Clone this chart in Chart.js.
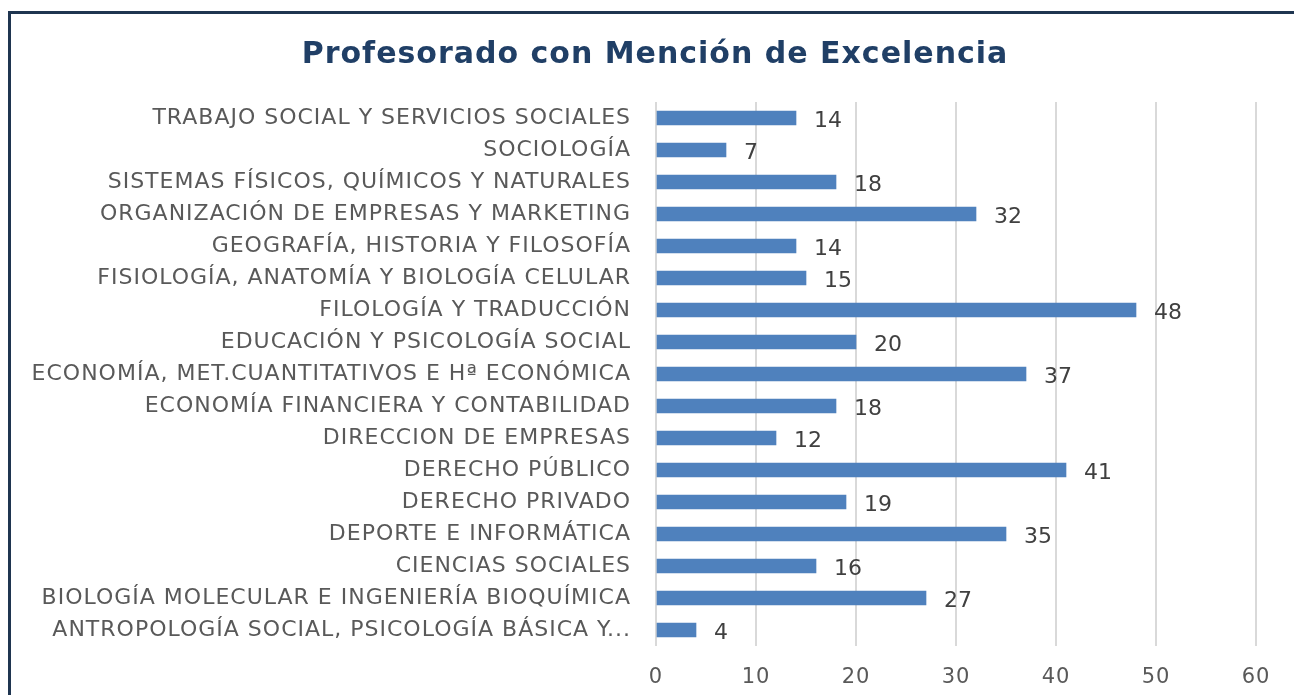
<!DOCTYPE html>
<html>
<head>
<meta charset="utf-8">
<script src="https://cdn.jsdelivr.net/npm/chart.js@4"></script>
<style>
  html, body { margin: 0; padding: 0; background: #fff; overflow: hidden; }
  #wrap { position: relative; width: 1294px; height: 695px; }
  #frame {
    position: absolute; left: 8px; top: 11px; width: 1400px; height: 800px;
    border-left: 3px solid #1f3550; border-top: 3px solid #1f3550;
    pointer-events: none;
  }
</style>
</head>
<body>
<div id="wrap">
  <canvas id="myChart" width="1294" height="695"></canvas>
  <div id="frame"></div>
</div>
<script>
// categorías (de arriba a abajo)
var areas = [
  "TRABAJO SOCIAL Y SERVICIOS SOCIALES",
  "SOCIOLOGÍA",
  "SISTEMAS FÍSICOS, QUÍMICOS Y NATURALES",
  "ORGANIZACIÓN DE EMPRESAS Y MARKETING",
  "GEOGRAFÍA, HISTORIA Y FILOSOFÍA",
  "FISIOLOGÍA, ANATOMÍA Y BIOLOGÍA CELULAR",
  "FILOLOGÍA Y TRADUCCIÓN",
  "EDUCACIÓN Y PSICOLOGÍA SOCIAL",
  "ECONOMÍA, MET.CUANTITATIVOS E Hª ECONÓMICA",
  "ECONOMÍA FINANCIERA Y CONTABILIDAD",
  "DIRECCION DE EMPRESAS",
  "DERECHO PÚBLICO",
  "DERECHO PRIVADO",
  "DEPORTE E INFORMÁTICA",
  "CIENCIAS SOCIALES",
  "BIOLOGÍA MOLECULAR E INGENIERÍA BIOQUÍMICA",
  "ANTROPOLOGÍA SOCIAL, PSICOLOGÍA BÁSICA Y..."
];
var profesores = [14, 7, 18, 32, 14, 15, 48, 20, 37, 18, 12, 41, 19, 35, 16, 27, 4];
var ejeX = [0, 10, 20, 30, 40, 50, 60];

// espaciado de letras (el original sale algo estirado)
var spacing = {
  id: "spacing",
  beforeDraw: function (chart) {
    chart.ctx.letterSpacing = "1px";
  }
};

// etiquetas de valor al final de cada barra
var valueLabels = {
  id: "valueLabels",
  afterDatasetsDraw: function (chart) {
    var ctx = chart.ctx;
    var meta = chart.getDatasetMeta(0);
    ctx.save();
    ctx.letterSpacing = "0px";
    ctx.font = "22px 'DejaVu Sans'";
    ctx.fillStyle = "#404040";
    ctx.textAlign = "left";
    ctx.textBaseline = "middle";
    meta.data.forEach(function (bar, i) {
      ctx.fillText(String(profesores[i]), bar.x + 18, bar.y + 3);
    });
    ctx.restore();
  }
};

var ctx = document.getElementById("myChart").getContext("2d");
var myChart = new Chart(ctx, {
  type: "bar",
  data: {
    labels: areas,
    datasets: [{
      data: profesores,
      backgroundColor: "#4f81bd",
      borderWidth: 0,
      barThickness: 14
    }]
  },
  plugins: [spacing, valueLabels],
  options: {
    indexAxis: "y",
    responsive: false,
    animation: false,
    layout: { padding: { left: 16, right: 0, top: 0, bottom: 0 } },
    plugins: {
      legend: { display: false },
      tooltip: { enabled: false },
      title: {
        display: true,
        text: "Profesorado con Mención de Excelencia",
        color: "#203f66",
        font: { family: "'DejaVu Sans'", size: 30, weight: "bold", lineHeight: 1.2 },
        padding: { top: 37, bottom: 29 }
      }
    },
    scales: {
      x: {
        min: 0,
        max: 60,
        afterBuildTicks: function (scale) {
          scale.ticks = ejeX.map(function (v) { return { value: v }; });
        },
        afterFit: function (scale) {
          scale.height = 49;
          scale.paddingRight = 38;
        },
        grid: { color: "#d9d9d9", lineWidth: 2, drawTicks: false },
        border: { display: false },
        ticks: {
          color: "#595959",
          padding: 19,
          font: { family: "'DejaVu Sans'", size: 21 }
        }
      },
      y: {
        afterFit: function (scale) { scale.width = 640; },
        grid: { display: false, drawTicks: false },
        border: { display: false },
        ticks: {
          color: "#595959",
          padding: 25,
          font: { family: "'DejaVu Sans'", size: 22 }
        }
      }
    }
  }
});
</script>
</body>
</html>
